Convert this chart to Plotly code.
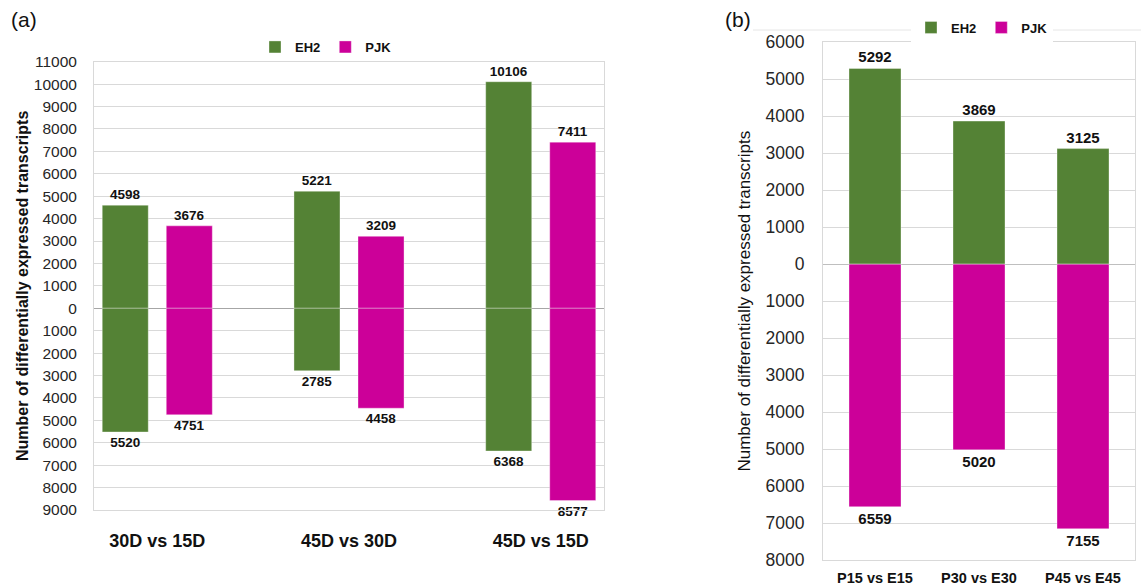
import plotly.graph_objects as go

# ---------------- data ----------------
comparisons_a = ["30D vs 15D", "45D vs 30D", "45D vs 15D"]
eh2_up_a = [4598, 5221, 10106]
eh2_down_a = [-5520, -2785, -6368]
pjk_up_a = [3676, 3209, 7411]
pjk_down_a = [-4751, -4458, -8577]

comparisons_b = ["P15 vs E15", "P30 vs E30", "P45 vs E45"]
eh2_b = [5292, 3869, 3125]
pjk_b = [-6559, -5020, -7155]

ticks_a = list(range(-9000, 11001, 1000))
ticks_b = list(range(-8000, 6001, 1000))
tick_labels_a = [str(abs(v)) for v in ticks_a]
tick_labels_b = [str(abs(v)) for v in ticks_b]

GREEN = "#548235"
MAGENTA = "#CC0099"
FONT = "Liberation Sans, Arial, sans-serif"
W, H = 1141, 587


def px(x):
    return x / W


def py(y):
    return 1 - y / H


fig = go.Figure()

# ---------------- panel (a) ----------------
bw_a = 0.24
off_a = 0.167
for name, vals, color, off, show in [
    ("EH2", eh2_up_a, GREEN, -off_a - bw_a / 2, True),
    ("EH2", eh2_down_a, GREEN, -off_a - bw_a / 2, False),
    ("PJK", pjk_up_a, MAGENTA, off_a - bw_a / 2, True),
    ("PJK", pjk_down_a, MAGENTA, off_a - bw_a / 2, False),
]:
    fig.add_trace(go.Bar(
        x=comparisons_a, y=vals, name=name, legendgroup=name + "a",
        showlegend=show, legend="legend",
        marker=dict(color=color, line=dict(color="rgba(255,255,255,0.35)", width=1)),
        width=bw_a, offset=off,
        text=[str(abs(v)) for v in vals], textposition="outside",
        textfont=dict(family=FONT, size=13.5, color="#111111", weight="bold"),
        cliponaxis=False, xaxis="x", yaxis="y",
    ))

# ---------------- panel (b) ----------------
for name, vals, color in [("EH2", eh2_b, GREEN), ("PJK", pjk_b, MAGENTA)]:
    fig.add_trace(go.Bar(
        x=comparisons_b, y=vals, name=name, legendgroup=name + "b",
        showlegend=True, legend="legend2",
        marker=dict(color=color, line=dict(color="rgba(255,255,255,0.35)", width=1)),
        width=0.5, offset=-0.25,
        text=[str(abs(v)) for v in vals], textposition="outside",
        textfont=dict(family=FONT, size=15, color="#111111", weight="bold"),
        cliponaxis=False, xaxis="x2", yaxis="y2",
    ))

grid = "#d9d9d9"
fig.update_layout(
    width=W, height=H, autosize=False,
    margin=dict(l=0, r=0, t=0, b=0, pad=0, autoexpand=False),
    paper_bgcolor="white", plot_bgcolor="white",
    barmode="overlay",
    font=dict(family=FONT, color="#262626"),
    xaxis=dict(
        domain=[px(94), px(604)], range=[-0.33, 2.33], type="category",
        showgrid=False, showline=True, mirror=True, linecolor=grid, linewidth=1,
        ticks="", ticklabelstandoff=14, automargin=False,
        tickfont=dict(family=FONT, size=18, color="#111111", weight="bold"),
        anchor="y", fixedrange=True,
    ),
    yaxis=dict(
        domain=[py(510), py(61.7)], range=[-9000, 11000],
        tickvals=ticks_a, ticktext=tick_labels_a,
        showgrid=True, gridcolor=grid, gridwidth=1,
        zeroline=True, zerolinecolor="#a6a6a6", zerolinewidth=1,
        showline=True, mirror=True, linecolor=grid,
        ticks="", ticklabelstandoff=13, automargin=False,
        tickfont=dict(family=FONT, size=15.5, color="#262626"),
        title=dict(text="Number of differentially expressed transcripts",
                   font=dict(family=FONT, size=16, color="#111111", weight="bold"),
                   standoff=1),
        anchor="x",
    ),
    xaxis2=dict(
        domain=[px(823), px(1135)], range=[-0.5, 2.5], type="category",
        showgrid=False, showline=True, mirror=True, linecolor=grid,
        ticks="", ticklabelstandoff=5, automargin=False,
        tickfont=dict(family=FONT, size=14.5, color="#111111", weight="bold"),
        anchor="y2",
    ),
    yaxis2=dict(
        domain=[py(560), py(42.3)], range=[-8000, 6000],
        tickvals=ticks_b, ticktext=tick_labels_b,
        showgrid=True, gridcolor=grid, gridwidth=1,
        zeroline=True, zerolinecolor="#bfbfbf", zerolinewidth=1,
        showline=True, mirror=True, linecolor=grid,
        ticks="", ticklabelstandoff=14, automargin=False,
        tickfont=dict(family=FONT, size=17.5, color="#262626"),
        title=dict(text="Number of differentially expressed transcripts",
                   font=dict(family=FONT, size=17, color="#111111"),
                   standoff=10),
        anchor="x2",
    ),
    legend=dict(
        orientation="h", x=px(326), y=py(47), xanchor="center", yanchor="middle",
        font=dict(family=FONT, size=13, color="#111111", weight="bold"),
        itemwidth=30, bgcolor="rgba(255,255,255,0)", traceorder="normal",
        itemclick=False, itemdoubleclick=False,
    ),
    legend2=dict(
        orientation="h", x=px(982), y=py(27.5), xanchor="center", yanchor="middle",
        font=dict(family=FONT, size=13, color="#111111", weight="bold"),
        itemwidth=30, bgcolor="white", traceorder="normal",
        itemclick=False, itemdoubleclick=False,
    ),
    annotations=[
        dict(text="(a)", x=px(9), y=py(19), xref="paper", yref="paper",
             xanchor="left", yanchor="middle", showarrow=False,
             font=dict(family=FONT, size=21, color="#111111")),
        dict(text="(b)", x=px(723), y=py(19), xref="paper", yref="paper",
             xanchor="left", yanchor="middle", showarrow=False,
             font=dict(family=FONT, size=21, color="#111111")),
    ],
    shapes=[
        dict(type="line", xref="paper", yref="paper", x0=px(753), x1=1,
             y0=py(30), y1=py(30), line=dict(color="#e6e6e6", width=1), layer="below"),
    ],
)

fig.write_html(
    "out.html",
    config={"displayModeBar": False},
    post_script="document.body.style.margin='0';document.body.style.padding='0';",
)
